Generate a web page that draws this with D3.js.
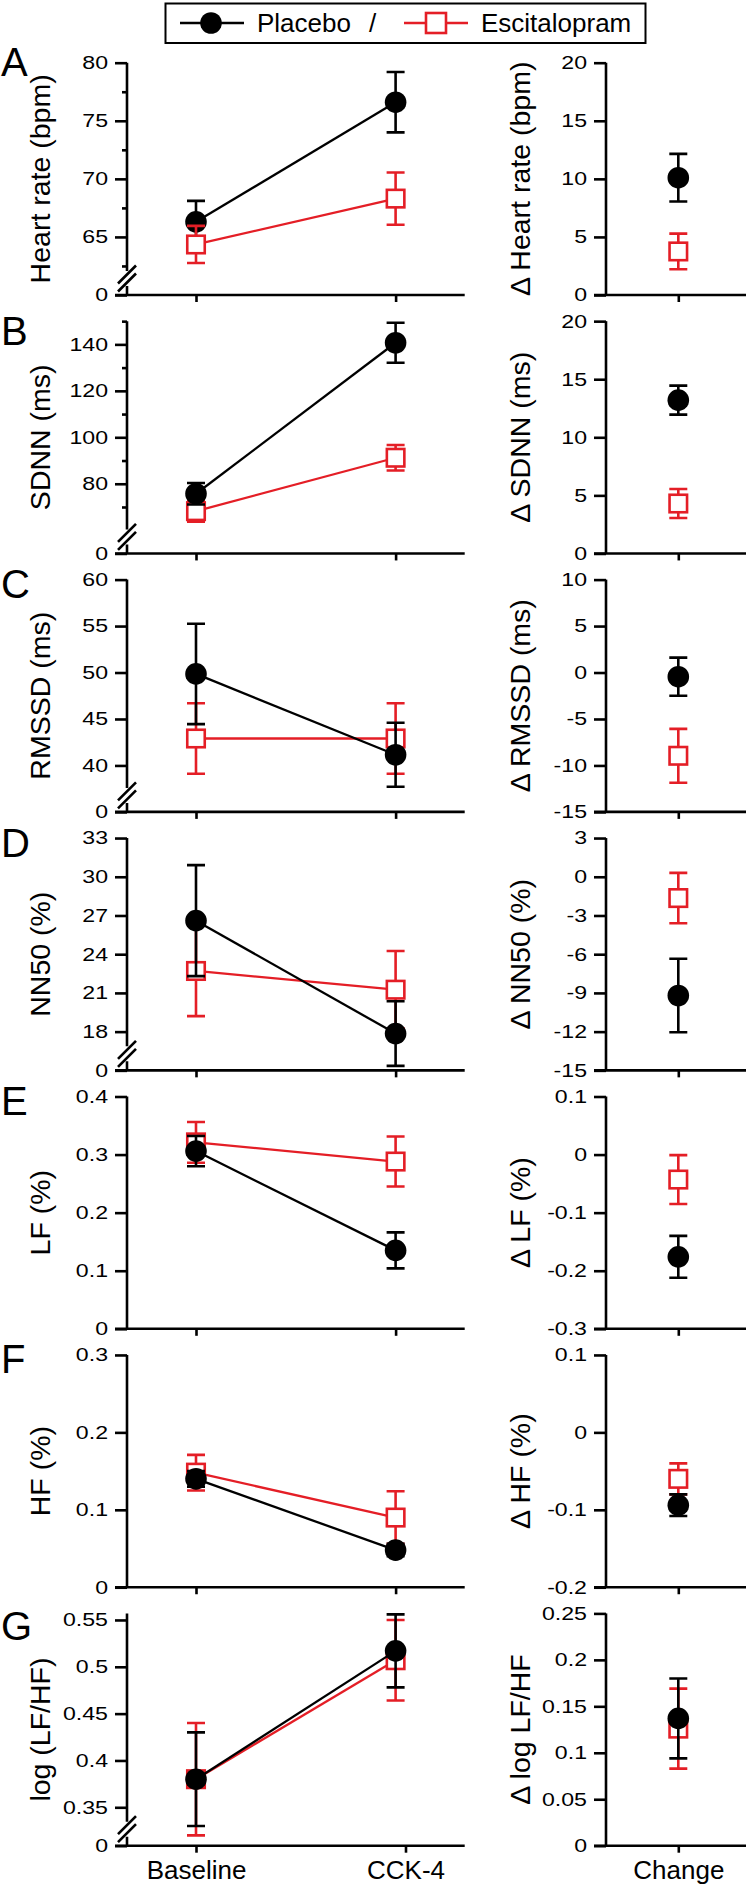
<!DOCTYPE html>
<html><head><meta charset="utf-8">
<script src="https://cdn.jsdelivr.net/npm/d3@7"></script>
<style>html,body{margin:0;padding:0;background:#fff}</style>
</head><body><svg id="c" width="746" height="1887"></svg>
<script>
// ---------------- data ----------------
const categories = ["Baseline", "CCK-4"];
const changeCategory = ["Change"];
const seriesNames = ["Placebo", "Escitalopram"];
const panelLetters = ["A", "B", "C", "D", "E", "F", "G"];
const leftTitles = ["Heart rate (bpm)", "SDNN (ms)", "RMSSD (ms)", "NN50 (%)", "LF (%)", "HF (%)", "log (LF/HF)"];
const rightTitles = ["\u0394 Heart rate (bpm)", "\u0394 SDNN (ms)", "\u0394 RMSSD (ms)", "\u0394 NN50 (%)", "\u0394 LF (%)", "\u0394 HF (%)", "\u0394 log LF/HF"];

// means and SE at [Baseline, CCK-4]
const placeboMean = [[66.3, 76.6], [75.7, 140.7], [49.85, 41.15], [26.6, 17.85], [0.306, 0.135], [0.14, 0.048], [0.38, 0.517]];
const placeboSE   = [[1.8, 2.6], [4.6, 8.6], [5.4, 3.45], [4.3, 2.5], [0.026, 0.031], [0.01, 0.008], [0.05, 0.039]];
const escMean     = [[64.35, 68.3], [68.2, 91.2], [42.9, 42.9], [22.7, 21.25], [0.321, 0.288], [0.148, 0.09], [0.38, 0.507]];
const escSE       = [[1.6, 2.25], [4.5, 5.5], [3.8, 3.8], [3.5, 3.0], [0.035, 0.043], [0.023, 0.034], [0.06, 0.043]];
// change scores
const placeboChange   = [10.1, 13.2, -0.45, -9.2, -0.176, -0.094, 0.137];
const placeboChangeSE = [2.05, 1.25, 2.05, 2.85, 0.036, 0.014, 0.043];
const escChange       = [3.75, 4.3, -8.96, -1.65, -0.043, -0.06, 0.126];
const escChangeSE     = [1.53, 1.25, 2.9, 1.95, 0.042, 0.02, 0.043];

// axes
const leftDomains = [[60, 80], [50, 150], [35, 60], [15, 33], [0, 0.4], [0, 0.3], [0.309, 0.557]];
const leftTicks = [[60, 65, 70, 75, 80], [50, 80, 100, 120, 140], [35, 40, 45, 50, 55, 60], [15, 18, 21, 24, 27, 30, 33], [0, 0.1, 0.2, 0.3, 0.4], [0, 0.1, 0.2, 0.3], [0.309, 0.35, 0.4, 0.45, 0.5, 0.55]];
const leftTickLabels = [["0", "65", "70", "75", "80"], ["0", "80", "100", "120", "140"], ["0", "40", "45", "50", "55", "60"], ["0", "18", "21", "24", "27", "30", "33"], ["0", "0.1", "0.2", "0.3", "0.4"], ["0", "0.1", "0.2", "0.3"], ["0", "0.35", "0.4", "0.45", "0.5", "0.55"]];
const leftMinorTicks = [[62.5, 67.5, 72.5, 77.5], [70, 90, 110, 130, 150], [], [], [], [], []];
const axisBreak = [true, true, true, true, false, false, true];
const escOnTop = [true, false, false, false, false, false, false];
const rightDomains = [[0, 20], [0, 20], [-15, 10], [-15, 3], [-0.3, 0.1], [-0.2, 0.1], [0, 0.25]];
const rightTicks = [[0, 5, 10, 15, 20], [0, 5, 10, 15, 20], [-15, -10, -5, 0, 5, 10], [-15, -12, -9, -6, -3, 0, 3], [-0.3, -0.2, -0.1, 0, 0.1], [-0.2, -0.1, 0, 0.1], [0, 0.05, 0.1, 0.15, 0.2, 0.25]];
const rightTickLabels = [["0", "5", "10", "15", "20"], ["0", "5", "10", "15", "20"], ["-15", "-10", "-5", "0", "5", "10"], ["-15", "-12", "-9", "-6", "-3", "0", "3"], ["-0.3", "-0.2", "-0.1", "0", "0.1"], ["-0.2", "-0.1", "0", "0.1"], ["0", "0.05", "0.1", "0.15", "0.2", "0.25"]];

// ---------------- layout ----------------
const FONT = "'Liberation Sans', Arial, Helvetica, sans-serif";
const RED = "#e41e26";
const BLACK = "#000";
const SW = 2.6;
const L = {top0: 62.7, step: 258.45, h: 232.3, lAx: 127, lX0: 115, lX1: 464.7, cat: [196, 395.6], gCat: [196, 405.5],
  rAx: 606, rX0: 594, rX1: 746, chg: 678.3, tick: 12, minor: 5, xTick: 7, pad: 7, stretch: 1.25,
  circleR: 10.8, sq: 17.5, cap: 9, leftTitleX: 50, rightTitleX: 530};
const letterBaselines = [76, 345, 598, 857, 1115, 1373, 1640];

const svg = d3.select("#c");

function styleTicks(sel) {
  sel.selectAll(".tick line").attr("stroke", BLACK).attr("stroke-width", SW);
  sel.selectAll(".tick text")
    .attr("font-family", FONT).attr("font-size", 18.5).attr("fill", BLACK)
    .attr("x", 0)
    .attr("transform", `translate(${-(L.tick + L.pad)},0) scale(${L.stretch},1)`);
  sel.select(".domain").remove();
}

panelLetters.forEach((letter, i) => {
  const top = L.top0 + i * L.step, bot = top + L.h;
  const g = svg.append("g");

  // panel letter
  g.append("text").attr("x", 1).attr("y", letterBaselines[i]).text(letter)
    .attr("font-family", FONT).attr("font-size", 40).attr("fill", BLACK);

  // ---------- left panel ----------
  const x = d3.scalePoint().domain(categories).range(L.cat);
  const y = d3.scaleLinear().domain(leftDomains[i]).range([bot, top]);

  const ya = g.append("g").attr("transform", `translate(${L.lAx},0)`)
    .call(d3.axisLeft(y).tickValues(leftTicks[i]).tickFormat((d, k) => leftTickLabels[i][k]).tickSize(L.tick).tickPadding(L.pad));
  styleTicks(ya);
  if (leftMinorTicks[i].length) {
    const ym = g.append("g").attr("transform", `translate(${L.lAx},0)`)
      .call(d3.axisLeft(y).tickValues(leftMinorTicks[i]).tickFormat("").tickSize(L.minor));
    ym.selectAll(".tick line").attr("stroke", BLACK).attr("stroke-width", SW);
    ym.select(".domain").remove();
  }
  // y axis line (with break)
  if (axisBreak[i]) {
    g.append("path").attr("d", `M${L.lAx},${top}V${bot - 24}M${L.lAx},${bot - 9}V${bot}`)
      .attr("stroke", BLACK).attr("stroke-width", SW).attr("fill", "none");
    [bot - 20.5, bot - 12.5].forEach(c => {
      g.append("line").attr("x1", L.lAx - 9).attr("y1", c + 9).attr("x2", L.lAx + 9).attr("y2", c - 9)
        .attr("stroke", BLACK).attr("stroke-width", SW);
    });
  } else {
    g.append("line").attr("x1", L.lAx).attr("y1", top).attr("x2", L.lAx).attr("y2", bot)
      .attr("stroke", BLACK).attr("stroke-width", SW);
  }
  // x axis
  g.append("line").attr("x1", L.lX0).attr("y1", bot).attr("x2", L.lX1).attr("y2", bot)
    .attr("stroke", BLACK).attr("stroke-width", SW);
  const isLast = i === panelLetters.length - 1;
  const xTickScale = d3.scalePoint().domain(categories).range(isLast ? L.gCat : L.cat);
  const xa = g.append("g").attr("transform", `translate(0,${bot})`)
    .call(d3.axisBottom(xTickScale).tickSize(L.xTick).tickPadding(8).tickFormat(isLast ? (d => d) : ""));
  xa.select(".domain").remove();
  xa.selectAll(".tick line").attr("stroke", BLACK).attr("stroke-width", SW);
  xa.selectAll(".tick text").attr("font-family", FONT).attr("font-size", 26).attr("fill", BLACK);

  // left title
  g.append("text").attr("transform", `translate(${L.leftTitleX},${(top + bot) / 2}) rotate(-90)`)
    .attr("text-anchor", "middle").attr("font-family", FONT).attr("font-size", 28.5).attr("fill", BLACK)
    .text(leftTitles[i]);

  // ---------- right panel ----------
  const xr = d3.scalePoint().domain(changeCategory).range([L.chg, L.chg]);
  const yr = d3.scaleLinear().domain(rightDomains[i]).range([bot, top]);
  const yra = g.append("g").attr("transform", `translate(${L.rAx},0)`)
    .call(d3.axisLeft(yr).tickValues(rightTicks[i]).tickFormat((d, k) => rightTickLabels[i][k]).tickSize(L.tick).tickPadding(L.pad));
  styleTicks(yra);
  g.append("line").attr("x1", L.rAx).attr("y1", top).attr("x2", L.rAx).attr("y2", bot)
    .attr("stroke", BLACK).attr("stroke-width", SW);
  g.append("line").attr("x1", L.rX0).attr("y1", bot).attr("x2", L.rX1).attr("y2", bot)
    .attr("stroke", BLACK).attr("stroke-width", SW);
  const xra = g.append("g").attr("transform", `translate(0,${bot})`)
    .call(d3.axisBottom(xr).tickSize(L.xTick).tickPadding(8).tickFormat(isLast ? (d => d) : ""));
  xra.select(".domain").remove();
  xra.selectAll(".tick line").attr("stroke", BLACK).attr("stroke-width", SW);
  xra.selectAll(".tick text").attr("font-family", FONT).attr("font-size", 26).attr("fill", BLACK);

  g.append("text").attr("transform", `translate(${L.rightTitleX},${(top + bot) / 2}) rotate(-90)`)
    .attr("text-anchor", "middle").attr("font-family", FONT).attr("font-size", 28.5).attr("fill", BLACK)
    .text(rightTitles[i]);

  // ---------- data marks ----------
  const esc = {name: seriesNames[1], color: RED, circle: false, mean: escMean[i], se: escSE[i], chg: escChange[i], chgSE: escChangeSE[i]};
  const pla = {name: seriesNames[0], color: BLACK, circle: true, mean: placeboMean[i], se: placeboSE[i], chg: placeboChange[i], chgSE: placeboChangeSE[i]};
  const groups = escOnTop[i] ? [pla, esc] : [esc, pla];
  groups.forEach(s => {
    const sg = g.append("g").attr("class", "series-" + s.name);
    const pts = categories.map((c, k) => ({px: x(c), py: y(s.mean[k]), lo: y(s.mean[k] - s.se[k]), hi: y(s.mean[k] + s.se[k])}));
    pts.push({px: xr(changeCategory[0]), py: yr(s.chg), lo: yr(s.chg - s.chgSE), hi: yr(s.chg + s.chgSE), change: true});
    sg.append("path").datum(pts.filter(p => !p.change))
      .attr("d", d3.line().x(p => p.px).y(p => p.py))
      .attr("stroke", s.color).attr("stroke-width", 2.3).attr("fill", "none");
    pts.forEach(p => {
      sg.append("path")
        .attr("d", `M${p.px},${p.lo}V${p.hi}M${p.px - L.cap},${p.lo}H${p.px + L.cap}M${p.px - L.cap},${p.hi}H${p.px + L.cap}`)
        .attr("stroke", s.color).attr("stroke-width", SW).attr("fill", "none");
    });
    pts.forEach(p => {
      if (s.circle) {
        sg.append("circle").attr("cx", p.px).attr("cy", p.py).attr("r", L.circleR).attr("fill", s.color);
      } else {
        sg.append("rect").attr("x", p.px - L.sq / 2).attr("y", p.py - L.sq / 2).attr("width", L.sq).attr("height", L.sq)
          .attr("fill", "#fff").attr("stroke", s.color).attr("stroke-width", SW);
      }
    });
  });
});

// ---------------- legend ----------------
const lg = svg.append("g");
lg.append("rect").attr("x", 165.5).attr("y", 3.5).attr("width", 480).attr("height", 39.5)
  .attr("fill", "#fff").attr("stroke", BLACK).attr("stroke-width", 2);
lg.append("line").attr("x1", 180).attr("y1", 23).attr("x2", 244).attr("y2", 23).attr("stroke", BLACK).attr("stroke-width", 2.3);
lg.append("circle").attr("cx", 211).attr("cy", 23).attr("r", L.circleR).attr("fill", BLACK);
lg.append("text").attr("x", 257).attr("y", 32).text(seriesNames[0])
  .attr("font-family", FONT).attr("font-size", 26).attr("fill", BLACK);
lg.append("text").attr("x", 369).attr("y", 32).text("/")
  .attr("font-family", FONT).attr("font-size", 26).attr("fill", BLACK);
lg.append("line").attr("x1", 404).attr("y1", 23).attr("x2", 468).attr("y2", 23).attr("stroke", RED).attr("stroke-width", 2.3);
lg.append("rect").attr("x", 436 - 10).attr("y", 23 - 10).attr("width", 20).attr("height", 20)
  .attr("fill", "#fff").attr("stroke", RED).attr("stroke-width", SW);
lg.append("text").attr("x", 481).attr("y", 32).text(seriesNames[1])
  .attr("font-family", FONT).attr("font-size", 26).attr("fill", BLACK);
</script>
</body></html>
